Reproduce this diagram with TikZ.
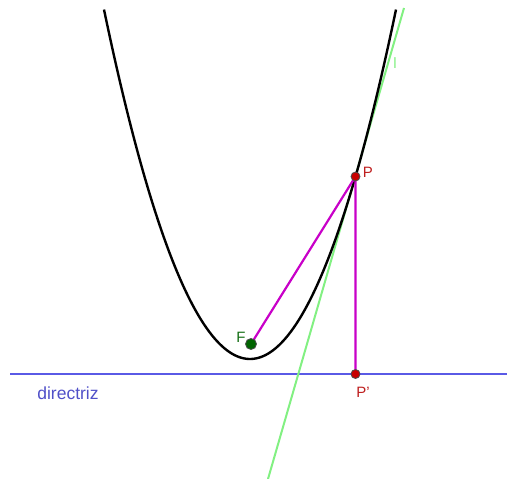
\documentclass[tikz,border=0pt]{standalone}
\usepackage{fontspec}
\setmainfont{Liberation Sans}
\definecolor{dirblue}{RGB}{90,90,230}
\definecolor{dirtext}{RGB}{80,80,200}
\definecolor{tangreen}{RGB}{130,240,130}
\definecolor{segmag}{RGB}{200,0,200}
\definecolor{ptred}{RGB}{200,0,0}
\definecolor{labred}{RGB}{190,30,30}
\definecolor{fgreen}{RGB}{0,100,0}
\definecolor{labgreen}{RGB}{20,110,20}
\begin{document}
\begin{tikzpicture}[x=1pt,y=-1pt,
  pt/.style={circle,draw=black!70,line width=0.8pt,inner sep=0pt,minimum size=9pt},
  lab/.style={font=\fontsize{15}{17}\selectfont,inner sep=0pt}]
\useasboundingbox (0,0) rectangle (507,479);
% directrix
\coordinate (dl) at (10,374);
\coordinate (dr) at (507,374);
\draw[dirblue,line width=2.2pt] (dl) -- (dr);
% tangent line
\coordinate (ttop) at (404,8);
\coordinate (tbot) at (268,479);
\draw[tangreen,line width=2pt] (tbot) -- (ttop);
% parabola
\draw[black,line width=2.4pt,domain=104:396,samples=120,smooth]
  plot (\x,{359-((\x-250)/61)*(\x-250)});
% segments
\coordinate (Fc) at (251,344);
\coordinate (Pc) at (355.5,176.5);
\coordinate (Ppc) at (355.5,374);
\draw[segmag,line width=2.2pt] (Fc) -- (Pc) -- (Ppc);
% points
\node[pt,fill=fgreen,minimum size=11pt] (F) at (Fc) {};
\node[pt,fill=ptred] (P) at (Pc) {};
\node[pt,fill=ptred] (Pp) at (Ppc) {};
% labels
\node[lab,text=labgreen] (Fl) at (241,337) {F};
\node[lab,text=labred] (Pl) at (368,172) {P};
\node[lab,text=labred] (Ppl) at (363,392) {P'};
\node[lab,text=tangreen] (ll) at (395,63) {l};
\node[lab,text=dirtext,font=\fontsize{17.5}{20}\selectfont] (dlab) at (68,393) {directriz};
\end{tikzpicture}
\end{document}
